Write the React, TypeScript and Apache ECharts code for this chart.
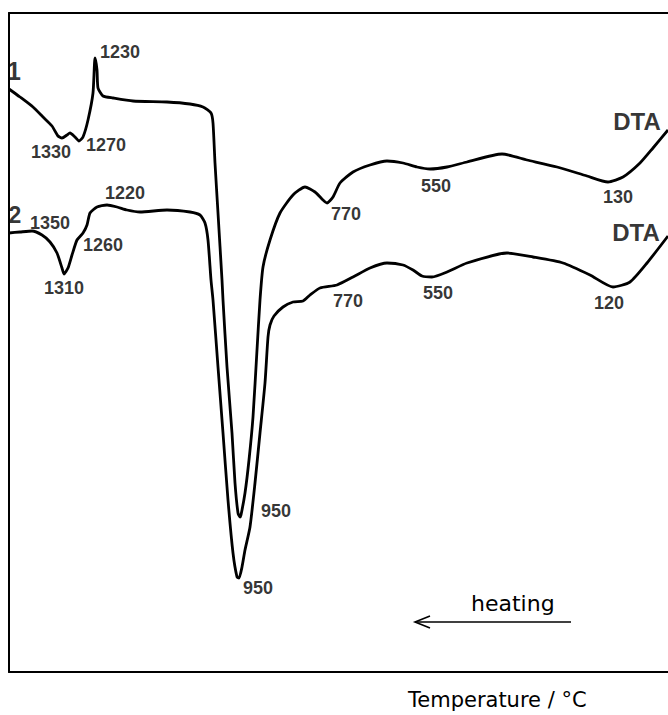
import React, { useEffect, useRef } from "react";
import * as echarts from "echarts";

// Curve 1 (DTA): [position along scan, signal]
const curve1: number[][] = [
  [0, 583], [11, 575], [24, 565], [34, 555], [43, 546], [49, 536], [53, 534], [58, 537],
  [61, 539], [66, 535], [70, 531], [74, 535], [79, 552], [84, 579], [86, 614], [88, 602],
  [89, 584], [94, 576], [104, 574], [124, 571], [158, 570], [181, 568], [194, 565], [202, 559],
  [204, 549], [206, 509], [209, 459], [213, 392], [214, 372], [218, 305], [223, 239], [226, 189],
  [229, 159], [231, 155], [232, 157], [236, 179], [240, 212], [244, 255], [248, 322], [251, 372],
  [254, 405], [261, 432], [271, 459], [284, 477], [296, 485], [306, 480], [314, 472], [318, 469],
  [324, 475], [331, 489], [344, 500], [361, 507], [378, 511], [394, 509], [408, 505], [421, 503],
  [438, 505], [458, 510], [493, 518], [518, 512], [548, 505], [578, 496], [599, 490], [614, 495],
  [631, 509], [644, 524], [659, 542],
];

// Curve 2 (DTA)
const curve2: number[][] = [
  [0, 439], [11, 440], [23, 441], [33, 437], [41, 430], [48, 419], [53, 404], [55, 398],
  [59, 404], [63, 417], [68, 432], [74, 439], [78, 447], [81, 459], [88, 465], [98, 467],
  [108, 465], [118, 462], [131, 460], [158, 462], [181, 460], [191, 457], [196, 449], [199, 432],
  [202, 392], [204, 372], [209, 305], [214, 239], [219, 172], [224, 119], [228, 95], [230, 94],
  [233, 105], [236, 122], [241, 145], [246, 189], [251, 239], [256, 289], [259, 335], [261, 347],
  [265, 356], [274, 365], [284, 370], [294, 371], [301, 377], [311, 384], [328, 387], [344, 395],
  [361, 404], [378, 409], [394, 407], [404, 402], [413, 396], [423, 395], [438, 400], [458, 409],
  [498, 419], [524, 415], [554, 409], [581, 397], [604, 385], [621, 390], [638, 409], [659, 436],
];

// Peak temperature annotations (°C) and their anchors in chart units
const peakTexts = ["1230", "1330", "1270", "770", "550", "130", "950",
  "1220", "1350", "1260", "1310", "770", "550", "120", "950"];
const peakX = [111, 42, 97, 337, 427, 609, 267, 116, 41, 94, 55, 339, 429, 600, 249];
const peakY = [620, 520, 527, 458, 486, 475, 161, 479, 449, 427, 384, 371, 379, 369, 84];

// Curve tags
const tagTexts = ["1", "2", "DTA", "DTA"];
const tagX = [5, 6, 628, 627];
const tagY = [601, 457, 551, 440];
const tagSizes = [25, 23, 24, 24];

export default function App() {
  const ref = useRef<HTMLDivElement>(null);
  useEffect(() => {
    if (!ref.current) return;
    const chart = echarts.init(ref.current, null, { renderer: "svg" });
    const font = "'Liberation Sans', Arial, sans-serif";
    const peakData = peakTexts.map((t, i) => ({ name: t, value: [peakX[i], peakY[i]] }));
    const tagData = tagTexts.map((t, i) => ({
      name: t,
      value: [tagX[i], tagY[i]],
      label: { fontSize: tagSizes[i] },
    }));
    chart.setOption({
      animation: false,
      backgroundColor: "#ffffff",
      grid: { left: 9, right: 0, top: 13, bottom: 43, containLabel: false },
      xAxis: [
        {
          type: "value", min: 0, max: 659, position: "bottom",
          axisLine: { show: true, lineStyle: { color: "#000", width: 2 } },
          axisTick: { show: false }, axisLabel: { show: false }, splitLine: { show: false },
        },
        {
          type: "value", min: 0, max: 659, position: "top",
          axisLine: { show: true, lineStyle: { color: "#000", width: 2 } },
          axisTick: { show: false }, axisLabel: { show: false }, splitLine: { show: false },
        },
      ],
      yAxis: {
        type: "value", min: 0, max: 659,
        axisLine: { show: true, lineStyle: { color: "#000", width: 2 } },
        axisTick: { show: false }, axisLabel: { show: false }, splitLine: { show: false },
      },
      series: [
        {
          type: "line", name: "DTA 1", data: curve1, showSymbol: false, smooth: 0.2,
          lineStyle: { color: "#000", width: 2.8 }, clip: true,
        },
        {
          type: "line", name: "DTA 2", data: curve2, showSymbol: false, smooth: 0.2,
          lineStyle: { color: "#000", width: 2.8 }, clip: true,
        },
        {
          type: "scatter", data: peakData, symbolSize: 0, silent: true,
          label: {
            show: true, position: "inside", formatter: "{b}",
            color: "#000", fontFamily: font, fontSize: 18, fontWeight: "bold",
          },
        },
        {
          type: "scatter", data: tagData, symbolSize: 0, silent: true,
          label: {
            show: true, position: "inside", formatter: "{b}",
            color: "#000", fontFamily: font, fontSize: 24, fontWeight: "bold",
          },
        },
      ],
      graphic: [
        {
          type: "text", left: 471, top: 592,
          style: { text: "heating", fill: "#000", fontSize: 22, fontFamily: "'DejaVu Sans', sans-serif" },
        },
        {
          type: "line", shape: { x1: 415, y1: 622, x2: 571, y2: 622 },
          style: { stroke: "#000", lineWidth: 1.6 },
        },
        {
          type: "polyline", shape: { points: [[430, 616], [415, 622], [430, 628]] },
          style: { stroke: "#000", lineWidth: 1.6, fill: "none" },
        },
        {
          type: "text", left: 408, top: 689,
          style: { text: "Temperature / °C", fill: "#000", fontSize: 21, fontFamily: "'DejaVu Sans', sans-serif" },
        },
      ],
    });
    return () => chart.dispose();
  }, []);
  return (
    <div
      ref={ref}
      style={{ position: "absolute", left: 0, top: 0, width: 668, height: 715, background: "#fff" }}
    />
  );
}
